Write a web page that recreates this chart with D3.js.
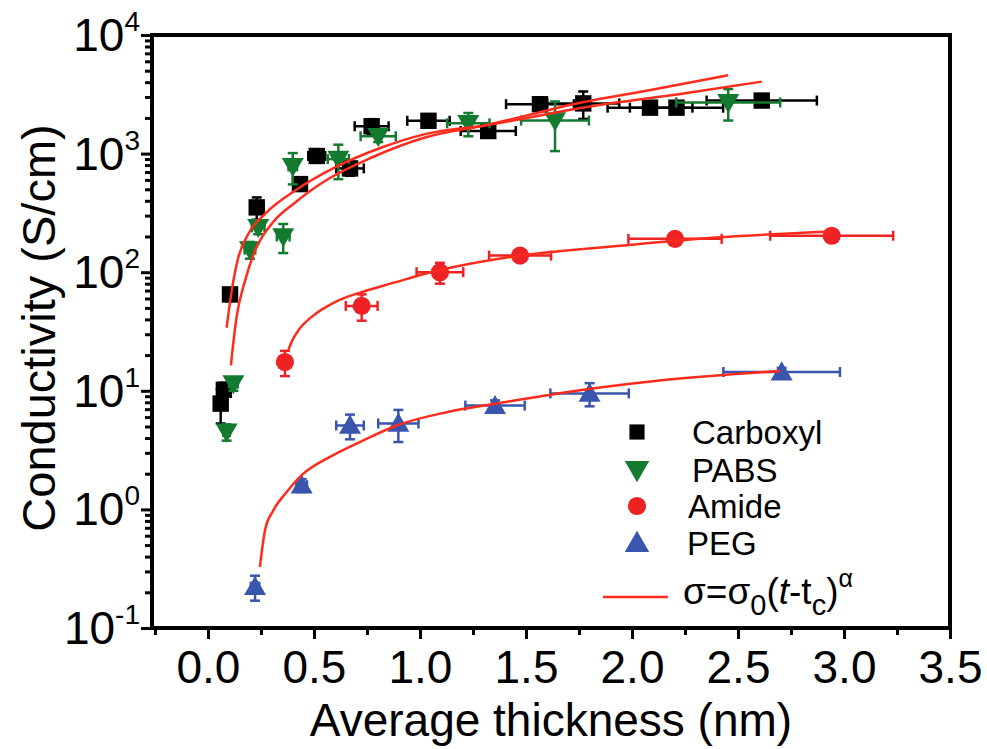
<!DOCTYPE html>
<html>
<head>
<meta charset="utf-8">
<script src="https://cdnjs.cloudflare.com/ajax/libs/d3/7.8.5/d3.min.js"></script>
<style>
  body { margin: 0; background: #fff; }
  text { font-family: "Liberation Sans", Arial, sans-serif; fill: #000; }
</style>
</head>
<body>
<div id="chart"></div>
<script>
var svgWidth = 987;
var svgHeight = 749;

var margin = { top: 35, right: 37, bottom: 121, left: 152 };
var width = svgWidth - margin.left - margin.right;
var height = svgHeight - margin.top - margin.bottom;

// data (thickness in nm, conductivity in S/cm)
var carboxylT = [0.06, 0.075, 0.104, 0.23, 0.434, 0.513, 0.67, 0.772, 1.04, 1.322, 1.566, 1.77, 2.085, 2.21, 2.612];
var carboxylS = [7.8, 10.2, 65, 352, 553, 955, 750, 1700, 1890, 1550, 2610, 2650, 2440, 2440, 2800];
var carboxylTErr = [0.01, 0.01, 0.015, 0.03, 0.03, 0.04, 0.065, 0.08, 0.1, 0.13, 0.16, 0.17, 0.2, 0.22, 0.26];
var carboxylSErr = [2.5, 1.5, 8, 75, 60, 100, 100, 250, 200, 150, 300, 690, 200, 200, 300];

var pabsT = [0.088, 0.12, 0.198, 0.237, 0.355, 0.40, 0.615, 0.803, 1.228, 1.637, 2.454];
var pabsS = [4.5, 11.5, 155, 239, 200, 780, 899, 1400, 1800, 1900, 2700];
var pabsTErr = [0.015, 0.02, 0.025, 0.03, 0.03, 0.02, 0.05, 0.083, 0.1, 0.16, 0.245];
var pabsSErr = [0.7, 1.5, 25, 30, 55, 230, 290, 150, 400, 850, 800];

var amideT = [0.363, 0.725, 1.094, 1.472, 2.203, 2.942];
var amideS = [17.5, 52, 100, 138, 191, 203];
var amideTErr = [0.02, 0.075, 0.11, 0.146, 0.22, 0.29];
var amideSErr = [4.2, 13, 20, 10, 10, 12];

var pegT = [0.222, 0.442, 0.67, 0.898, 1.354, 1.80, 2.706];
var pegS = [0.223, 1.6, 5.1, 5.3, 7.5, 9.5, 14.4];
var pegTErr = [0.02, 0.025, 0.065, 0.095, 0.14, 0.185, 0.275];
var pegSErr = [0.053, 0.2, 1.2, 1.6, 0.8, 2.1, 1.2];

// fitted curves sigma = sigma0 (t - tc)^alpha
var carboxylFitT = [0.088, 0.112, 0.143, 0.19, 0.269, 0.41, 0.599, 0.819, 1.024, 1.32, 1.786, 2.258, 2.612];
var carboxylFitS = [34, 70, 133, 210, 310, 486, 764, 1125, 1459, 1746, 2470, 3240, 4045];
var pabsFitT = [0.108, 0.135, 0.175, 0.222, 0.30, 0.41, 0.567, 0.772, 1.024, 1.32, 1.723, 2.1, 2.454];
var pabsFitS = [16.4, 42, 85, 152, 255, 385, 610, 927, 1367, 1746, 2610, 3470, 4580];
var amideFitT = [0.379, 0.395, 0.43, 0.489, 0.599, 0.725, 0.882, 1.024, 1.472, 1.943, 2.415, 2.94];
var amideFitS = [21.9, 26, 33, 42, 56, 68, 82, 97, 138, 167, 197, 220];
var pegFitT = [0.245, 0.269, 0.308, 0.371, 0.45, 0.575, 0.733, 0.89, 1.126, 1.362, 1.652, 2.13, 2.70];
var pegFitS = [0.328, 0.668, 0.98, 1.40, 2.0, 2.77, 3.82, 5.1, 6.6, 7.8, 9.5, 12.2, 14.7];

var xTicks = [0, 0.5, 1, 1.5, 2, 2.5, 3, 3.5];
var yExponents = [-1, 0, 1, 2, 3, 4];
var legendNames = ["Carboxyl", "PABS", "Amide", "PEG"];

var colors = { black: "#000000", green: "#137a30", red: "#ee2224", blue: "#3a55ad", fit: "#ff2b1c" };

var svg = d3.select("#chart")
  .append("svg")
  .attr("width", svgWidth)
  .attr("height", svgHeight);

var chartGroup = svg.append("g")
  .attr("transform", `translate(${margin.left}, ${margin.top})`);

var xScale = d3.scaleLinear().domain([-0.264, 3.5]).range([0, width]);
var yScale = d3.scaleLog().domain([0.1, 10000]).range([height, 0]);

// x ticks (major + minor), drawn outward
var xMinor = d3.range(-0.25, 3.5, 0.25).filter(v => Math.abs(v * 2 - Math.round(v * 2)) > 1e-6);
chartGroup.append("g")
  .attr("transform", `translate(0, ${height})`)
  .call(d3.axisBottom(xScale).tickValues(xMinor).tickSize(7).tickFormat(""))
  .call(g => g.select(".domain").remove())
  .call(g => g.selectAll("line").attr("stroke-width", 3));

var xAxis = chartGroup.append("g")
  .attr("transform", `translate(0, ${height})`)
  .call(d3.axisBottom(xScale).tickValues(xTicks).tickSize(11).tickPadding(11).tickFormat(d3.format(".1f")));
xAxis.select(".domain").remove();
xAxis.selectAll("line").attr("stroke-width", 3);
xAxis.selectAll("text")
  .attr("font-size", "46px")
  .attr("font-family", "Liberation Sans, Arial, sans-serif")
  .attr("fill", "#000");

// y ticks: decades + minor 2..9
var yMinor = [];
yExponents.slice(0, -1).forEach(function(e) {
  d3.range(2, 10).forEach(function(m) { yMinor.push(m * Math.pow(10, e)); });
});
chartGroup.append("g")
  .call(d3.axisLeft(yScale).tickValues(yMinor).tickSize(7).tickFormat(""))
  .call(g => g.select(".domain").remove())
  .call(g => g.selectAll("line").attr("stroke-width", 3));

var yAxis = chartGroup.append("g")
  .call(d3.axisLeft(yScale).tickValues(yExponents.map(e => Math.pow(10, e))).tickSize(11).tickFormat(""));
yAxis.select(".domain").remove();
yAxis.selectAll("line").attr("stroke-width", 3);

var yLabels = chartGroup.selectAll("text.ylab")
  .data(yExponents)
  .enter()
  .append("text")
  .attr("class", "ylab")
  .attr("x", -12)
  .attr("y", d => yScale(Math.pow(10, d)) + 16)
  .attr("text-anchor", "end")
  .attr("font-size", "46px");
yLabels.append("tspan").text("10");
yLabels.append("tspan")
  .attr("dy", -20)
  .attr("font-size", "28px")
  .text(d => d);

// frame
chartGroup.append("rect")
  .attr("x", 0)
  .attr("y", 0)
  .attr("width", width)
  .attr("height", height)
  .attr("fill", "none")
  .attr("stroke", "#000")
  .attr("stroke-width", 4);

// axis titles
svg.append("text")
  .attr("x", margin.left + width / 2)
  .attr("y", 736)
  .attr("text-anchor", "middle")
  .attr("font-size", "46px")
  .text("Average thickness (nm)");

svg.append("text")
  .attr("transform", "translate(55, 328) rotate(-90)")
  .attr("text-anchor", "middle")
  .attr("font-size", "47px")
  .text("Conductivity (S/cm)");

// series
function buildSeries(t, s, tErr, sErr) {
  return t.map(function(v, i) {
    return { t: v, s: s[i], te: tErr[i], se: sErr[i] };
  });
}

var series = [
  { name: "Carboxyl", color: colors.black, symbol: d3.symbolSquare, size: 270, rotate: 0,
    data: buildSeries(carboxylT, carboxylS, carboxylTErr, carboxylSErr) },
  { name: "PABS", color: colors.green, symbol: d3.symbolTriangle, size: 210, rotate: 180,
    data: buildSeries(pabsT, pabsS, pabsTErr, pabsSErr) },
  { name: "Amide", color: colors.red, symbol: d3.symbolCircle, size: 260, rotate: 0,
    data: buildSeries(amideT, amideS, amideTErr, amideSErr) },
  { name: "PEG", color: colors.blue, symbol: d3.symbolTriangle, size: 210, rotate: 0,
    data: buildSeries(pegT, pegS, pegTErr, pegSErr) }
];

var cap = 5;
series.forEach(function(sr) {
  var g = chartGroup.append("g")
    .attr("stroke", sr.color)
    .attr("stroke-width", 2.5)
    .attr("fill", "none");

  sr.data.forEach(function(d) {
    var cx = xScale(d.t), cy = yScale(d.s);
    var x0 = xScale(d.t - d.te), x1 = xScale(d.t + d.te);
    var y0 = yScale(d.s + d.se), y1 = yScale(Math.max(d.s - d.se, 0.1));
    // horizontal error bar
    g.append("line").attr("x1", x0).attr("x2", x1).attr("y1", cy).attr("y2", cy);
    g.append("line").attr("x1", x0).attr("x2", x0).attr("y1", cy - cap).attr("y2", cy + cap);
    g.append("line").attr("x1", x1).attr("x2", x1).attr("y1", cy - cap).attr("y2", cy + cap);
    // vertical error bar
    g.append("line").attr("x1", cx).attr("x2", cx).attr("y1", y0).attr("y2", y1);
    g.append("line").attr("x1", cx - cap).attr("x2", cx + cap).attr("y1", y0).attr("y2", y0);
    g.append("line").attr("x1", cx - cap).attr("x2", cx + cap).attr("y1", y1).attr("y2", y1);
  });

  chartGroup.selectAll(null)
    .data(sr.data)
    .enter()
    .append("path")
    .attr("d", d3.symbol().type(sr.symbol).size(sr.size))
    .attr("transform", d => `translate(${xScale(d.t)}, ${yScale(d.s) + (sr.symbol === d3.symbolTriangle ? (sr.rotate ? -2 : 2) : 0)}) rotate(${sr.rotate})`)
    .attr("fill", sr.color);
});

// fit lines
var fitLine = d3.line()
  .x(d => xScale(d[0]))
  .y(d => yScale(d[1]))
  .curve(d3.curveMonotoneX);

[[carboxylFitT, carboxylFitS], [pabsFitT, pabsFitS], [amideFitT, amideFitS], [pegFitT, pegFitS]]
  .forEach(function(f) {
    chartGroup.append("path")
      .datum(d3.zip(f[0], f[1]))
      .attr("d", fitLine)
      .attr("fill", "none")
      .attr("stroke", colors.fit)
      .attr("stroke-width", 2.5);
  });

// legend
var legend = svg.append("g");
var legendY = [432, 470, 506, 543];
var legendTextX = [692, 692, 688, 687];
series.forEach(function(sr, i) {
  legend.append("path")
    .attr("d", d3.symbol().type(sr.symbol).size(sr.symbol === d3.symbolSquare ? 230 : 260))
    .attr("transform", `translate(637, ${legendY[i] + (sr.symbol === d3.symbolTriangle ? (sr.rotate ? -2 : 2) : 0)}) rotate(${sr.rotate})`)
    .attr("fill", sr.color);
  legend.append("text")
    .attr("x", legendTextX[i])
    .attr("y", legendY[i] + 12)
    .attr("font-size", "33px")
    .text(legendNames[i]);
});

legend.append("line")
  .attr("x1", 603).attr("x2", 668)
  .attr("y1", 597).attr("y2", 597)
  .attr("stroke", colors.fit)
  .attr("stroke-width", 2.5);

var formula = legend.append("text")
  .attr("x", 683)
  .attr("y", 604)
  .attr("font-size", "37px");
formula.append("tspan").text("\u03c3=\u03c3");
formula.append("tspan").attr("dy", 11).attr("font-size", "29px").text("0");
formula.append("tspan").attr("dy", -11).text("(");
formula.append("tspan").attr("font-style", "italic").text("t");
formula.append("tspan").text("-t");
formula.append("tspan").attr("dy", 11).attr("font-size", "29px").text("c");
formula.append("tspan").attr("dy", -11).text(")");
formula.append("tspan").attr("dy", -17).attr("font-size", "25px").text("\u03b1");
</script>
</body>
</html>
